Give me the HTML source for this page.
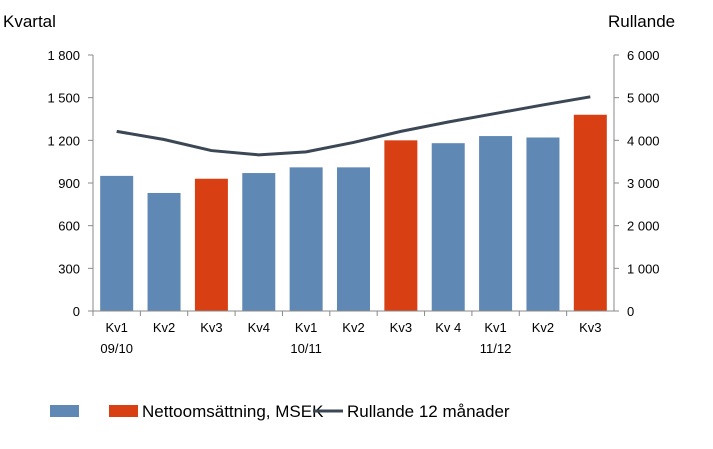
<!DOCTYPE html>
<html><head><meta charset="utf-8"><style>
body{margin:0;background:#fff;font-family:"Liberation Sans",sans-serif}
svg text{font-family:"Liberation Sans",sans-serif;fill:#000}
</style></head><body>
<svg width="713" height="444" viewBox="0 0 713 444">
<g id="g"></g>
</svg>
<script>
const categories=["Kv1","Kv2","Kv3","Kv4","Kv1","Kv2","Kv3","Kv 4","Kv1","Kv2","Kv3"];
const years=["09/10","","","","10/11","","","","11/12","",""];
const quarterValues=[950,830,930,970,1010,1010,1200,1180,1230,1220,1380];
const highlighted=[0,0,1,0,0,0,1,0,0,0,1];
const rollingValues=[4210,4020,3760,3660,3730,3950,4210,4430,4630,4830,5020];
const leftTicks=[0,300,600,900,1200,1500,1800];
const leftLabels=["0","300","600","900","1 200","1 500","1 800"];
const rightTicks=[0,1000,2000,3000,4000,5000,6000];
const rightLabels=["0","1 000","2 000","3 000","4 000","5 000","6 000"];
const NS="http://www.w3.org/2000/svg";
const g=document.getElementById('g');
const X0=93,X1=614,Y0=311,Y1=55;
const band=(X1-X0)/categories.length;
const yL=v=>Y0-(v/1800)*(Y0-Y1);
const yR=v=>Y0-(v/6000)*(Y0-Y1);
const xc=i=>X0+band*(i+0.5);
function el(t,a,txt){const e=document.createElementNS(NS,t);for(const k in a)e.setAttribute(k,a[k]);if(txt!==undefined)e.textContent=txt;g.appendChild(e);return e;}
let e;
e=el('text',{x:3,y:27,'font-size':17},'Kvartal');


e=el('text',{x:608,y:27,'font-size':17},'Rullande');


leftTicks.forEach((v,i)=>{
 e=el('text',{x:80,y:yL(v)+5,'font-size':13,'text-anchor':'end'},leftLabels[i]);
 
 
 el('line',{x1:88,x2:93,y1:yL(v),y2:yL(v),stroke:'#888'});
});
rightTicks.forEach((v,i)=>{
 e=el('text',{x:627,y:yR(v)+5,'font-size':13},rightLabels[i]);
 
 
 el('line',{x1:X1,x2:X1+5,y1:yR(v),y2:yR(v),stroke:'#888'});
});
e=el('line',{x1:X0,x2:X0,y1:Y1,y2:Y0,stroke:'#888'});


e=el('line',{x1:X1,x2:X1,y1:Y1,y2:Y0,stroke:'#888'});


quarterValues.forEach((v,i)=>{
 const w=33;
 e=el('rect',{x:xc(i)-w/2,y:yL(v),width:w,height:Y0-yL(v),fill:highlighted[i]?'#d84013':'#6088b4'});
 
 
 e=el('text',{x:xc(i),y:332,'font-size':13,'text-anchor':'middle'},categories[i]);
 
 
 if(years[i]){e=el('text',{x:xc(i),y:353,'font-size':13,'text-anchor':'middle'},years[i]);
 
 }
 el('line',{x1:X0+band*i,x2:X0+band*i,y1:Y0,y2:Y0+5,stroke:'#888'});
});
e=el('line',{x1:X0,x2:X1+4,y1:Y0,y2:Y0,stroke:'#888'});


e=el('polyline',{points:rollingValues.map((v,i)=>xc(i)+','+yR(v)).join(' '),fill:'none',stroke:'#3b4754','stroke-width':3});


e=el('rect',{x:50,y:405,width:29,height:12,fill:'#6088b4'});


e=el('rect',{x:109,y:405,width:29,height:12,fill:'#d84013'});


e=el('text',{x:142,y:417,'font-size':17},'Nettoomsättning, MSEK');


e=el('line',{x1:313,x2:343,y1:411,y2:411,stroke:'#3b4754','stroke-width':3});


e=el('text',{x:347,y:417,'font-size':17},'Rullande 12 månader');


</script>
</body></html>
